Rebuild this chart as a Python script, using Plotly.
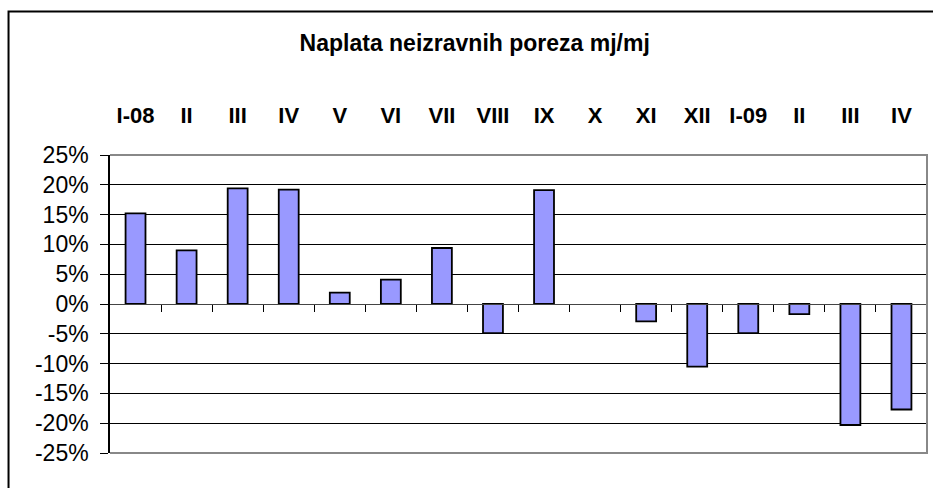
import plotly.graph_objects as go

months = ["I-08", "II", "III", "IV", "V", "VI", "VII", "VIII", "IX", "X",
          "XI", "XII", "I-09", "II", "III", "IV"]
values = [15.2, 9.0, 19.4, 19.2, 1.9, 4.1, 9.4, -4.9, 19.1, None,
          -2.9, -10.5, -4.9, -1.7, -20.3, -17.7]
y_ticks = [25, 20, 15, 10, 5, 0, -5, -10, -15, -20, -25]
y_tick_text = [f"{v}%" for v in y_ticks]

FONT = "Liberation Sans, Arial, sans-serif"
xs = list(range(len(months)))
boundaries = [i + 0.5 for i in range(len(months) - 1)] + [len(months) - 0.5]

fig = go.Figure()
fig.add_trace(go.Bar(
    x=xs, y=values, width=0.39,
    marker=dict(color="#9999FF", line=dict(color="black", width=1.8)),
    showlegend=False, hoverinfo="skip",
))
# invisible trace for the zero-crossing category axis (tick marks)
fig.add_trace(go.Scatter(x=[xs[0]], y=[0], xaxis="x2", mode="markers",
                         marker=dict(opacity=0), showlegend=False, hoverinfo="skip"))

fig.update_layout(
    width=933, height=488,
    margin=dict(l=110, r=6, t=155, b=35),
    paper_bgcolor="white", plot_bgcolor="white",
    font=dict(family=FONT, color="black"),
    title=dict(text="<b>Naplata neizravnih poreza mj/mj</b>",
               x=0.5088, xanchor="center", y=0.912, yanchor="middle",
               font=dict(size=23, family=FONT, color="black")),
    xaxis=dict(
        range=[-0.5, len(months) - 0.5], side="top",
        tickmode="array", tickvals=xs, ticktext=[f"<b>{m}</b>" for m in months],
        tickfont=dict(size=22, family=FONT, color="black"),
        ticks="", showline=False, showgrid=False, zeroline=False,
        ticklabelstandoff=27, automargin=False,
    ),
    xaxis2=dict(
        overlaying="x", anchor="free", position=0.5, side="bottom",
        range=[-0.5, len(months) - 0.5],
        tickmode="array", tickvals=boundaries, showticklabels=False,
        ticks="outside", ticklen=7, tickcolor="black", tickwidth=1,
        showline=True, linecolor="#444", linewidth=1,
        showgrid=False, zeroline=False, automargin=False,
    ),
    yaxis=dict(
        range=[-25, 25], tickmode="array", tickvals=y_ticks, ticktext=y_tick_text,
        tickfont=dict(size=23, family=FONT, color="black"),
        ticks="outside", ticklen=8, tickcolor="black",
        showline=True, linecolor="black", linewidth=1.5,
        showgrid=True, gridcolor="black", gridwidth=1,
        zeroline=False, automargin=False, ticklabelstandoff=7,
    ),
    shapes=[
        dict(type="path", xref="paper", yref="paper",
             path="M 0,1 L 1,1 L 1,0 L 0,0",
             line=dict(color="#888888", width=2), layer="above"),
        dict(type="path", xref="paper", yref="paper",
             path="M -0.1242,-0.3 L -0.1242,1.4815 L 1.2,1.4815",
             line=dict(color="black", width=2), layer="above"),
    ],
)

fig.write_html(
    "out.html",
    config={"displayModeBar": False},
    post_script="document.body.style.margin='0';document.body.style.overflow='hidden';",
)
